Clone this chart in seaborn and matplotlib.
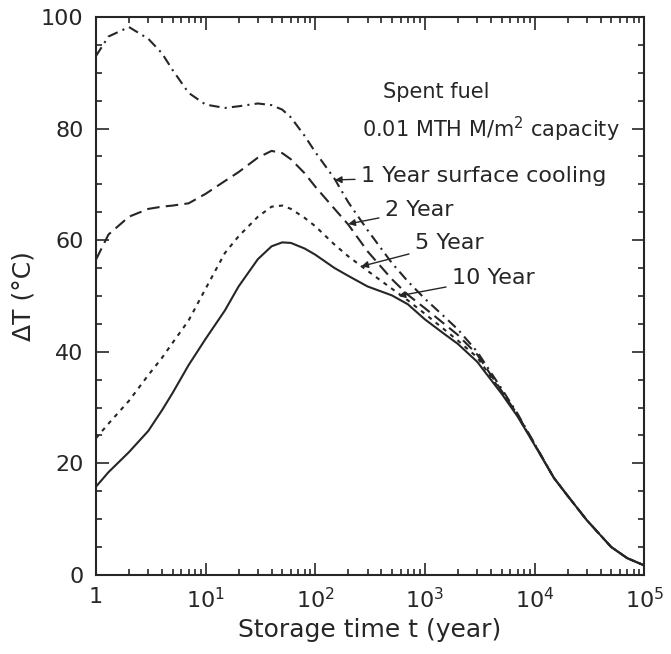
import numpy as np
import pandas as pd
import matplotlib
matplotlib.use("Agg")
import matplotlib.pyplot as plt
from matplotlib.ticker import LogLocator, MultipleLocator, NullFormatter, FixedLocator, FixedFormatter
import seaborn as sns

# Storage time grid (years) and temperature rise (deg C) per surface-cooling period
years = [1, 1.3, 2, 3, 4, 5, 7, 10, 15, 20, 30, 40, 50, 60, 80, 100, 150, 200, 300,
         500, 700, 1000, 1500, 2000, 3000, 5000, 7000, 10000, 15000, 20000,
         30000, 50000, 70000, 100000]

dt_1yr = [93.0, 96.5, 98.2, 96.1, 93.5, 90.5, 86.4, 84.3, 83.7, 84.0, 84.5, 84.2, 83.4, 82.0,
          78.7, 75.8, 71.0, 66.8, 61.8, 55.9, 52.6, 49.5, 46.3, 44.0, 40.0, 33.4, 28.9,
          23.5, 17.4, 14.2, 9.8, 5.0, 3.0, 1.7]
dt_2yr = [56.5, 61.0, 64.2, 65.6, 66.0, 66.2, 66.6, 68.3, 70.6, 72.2, 74.8, 76.0, 75.6, 74.5,
          72.0, 69.6, 65.6, 62.8, 58.0, 53.0, 50.2, 47.8, 45.0, 43.0, 39.5, 33.0, 28.7,
          23.5, 17.4, 14.2, 9.8, 5.0, 3.0, 1.7]
dt_5yr = [24.5, 27.1, 31.2, 35.8, 38.9, 41.6, 45.6, 51.3, 57.7, 60.7, 64.2, 66.0, 66.2, 65.6,
          64.0, 62.5, 59.2, 57.1, 54.5, 51.3, 49.2, 46.8, 44.0, 42.0, 39.0, 32.8, 28.6,
          23.4, 17.4, 14.2, 9.8, 5.0, 3.0, 1.7]
dt_10yr = [15.8, 18.4, 22.0, 25.8, 29.5, 32.6, 37.6, 42.3, 47.4, 51.7, 56.6, 58.9, 59.6, 59.5,
           58.5, 57.4, 55.0, 53.6, 51.7, 50.1, 48.5, 45.8, 43.2, 41.4, 38.2, 32.5, 28.4,
           23.3, 17.4, 14.2, 9.8, 5.0, 3.0, 1.7]

series_names = ["1 Year", "2 Year", "5 Year", "10 Year"]
series_values = [dt_1yr, dt_2yr, dt_5yr, dt_10yr]

# annotation: label text, arrow tip (year, dT), text anchor (year, dT)
labels = ["1 Year surface cooling", "2 Year", "5 Year", "10 Year"]
tip_years = [151, 200, 263, 575]
tip_dt = [70.8, 62.9, 55.3, 50.0]
text_years = [262, 433, 813, 1770]
text_dt = [71.5, 65.4, 59.4, 53.2]

x_ticks = [1, 10, 100, 1000, 10000, 100000]
x_ticklabels = ["1", r"$\mathdefault{10^{1}}$", r"$\mathdefault{10^{2}}$",
                r"$\mathdefault{10^{3}}$", r"$\mathdefault{10^{4}}$", r"$\mathdefault{10^{5}}$"]

sns.set_theme(style="ticks")
plt.rcParams["font.family"] = ["DejaVu Sans"]
plt.rcParams["mathtext.fontset"] = "dejavusans"

ink = "#262626"

df = pd.concat(
    [pd.DataFrame({"years": years, "dT": v, "cooling": n}) for n, v in zip(series_names, series_values)],
    ignore_index=True,
)

fig = plt.figure(figsize=(6.71, 6.54), dpi=100)
ax = fig.add_axes([0.143, 0.121, 0.817, 0.853])

sns.lineplot(
    data=df, x="years", y="dT", hue="cooling", style="cooling",
    palette={n: ink for n in series_names},
    dashes={"1 Year": (5, 2.5, 1, 2.5), "2 Year": (6, 3), "5 Year": (2, 2.5), "10 Year": ""},
    linewidth=1.5, sort=False, estimator=None, legend=False, ax=ax,
)

ax.set_xscale("log")
ax.set_xlim(1, 1e5)
ax.set_ylim(0, 100)

ax.xaxis.set_major_locator(FixedLocator(x_ticks))
ax.xaxis.set_major_formatter(FixedFormatter(x_ticklabels))
ax.xaxis.set_minor_locator(LogLocator(base=10, subs=range(2, 10), numticks=20))
ax.xaxis.set_minor_formatter(NullFormatter())
ax.yaxis.set_major_locator(MultipleLocator(20))
ax.yaxis.set_minor_locator(MultipleLocator(5))

ax.tick_params(which="both", direction="in", top=True, right=True, color=ink, width=1.2)
ax.tick_params(which="major", length=9, labelsize=16, pad=9, labelcolor=ink)
ax.tick_params(which="minor", length=4.5)
for s in ax.spines.values():
    s.set_linewidth(1.5)
    s.set_color(ink)

ax.set_xlabel("Storage time t (year)", fontsize=18, color=ink, labelpad=4)
ax.set_ylabel("ΔT (°C)", fontsize=18, color=ink, labelpad=4)

ax.text(416, 86.6, "Spent fuel", fontsize=15, color=ink, ha="left", va="center")
ax.text(267, 79.9, r"0.01 MTH M/m$^2$ capacity", fontsize=15, color=ink, ha="left", va="center")

for lab, tx, ty, sx, sy in zip(labels, tip_years, tip_dt, text_years, text_dt):
    ax.annotate(
        lab, xy=(tx, ty), xytext=(sx, sy), fontsize=16, color=ink,
        ha="left", va="center",
        arrowprops=dict(arrowstyle="-|>", color=ink, lw=1.0, shrinkA=2, shrinkB=0,
                        mutation_scale=10),
    )

fig.savefig("out.png", dpi=100)
